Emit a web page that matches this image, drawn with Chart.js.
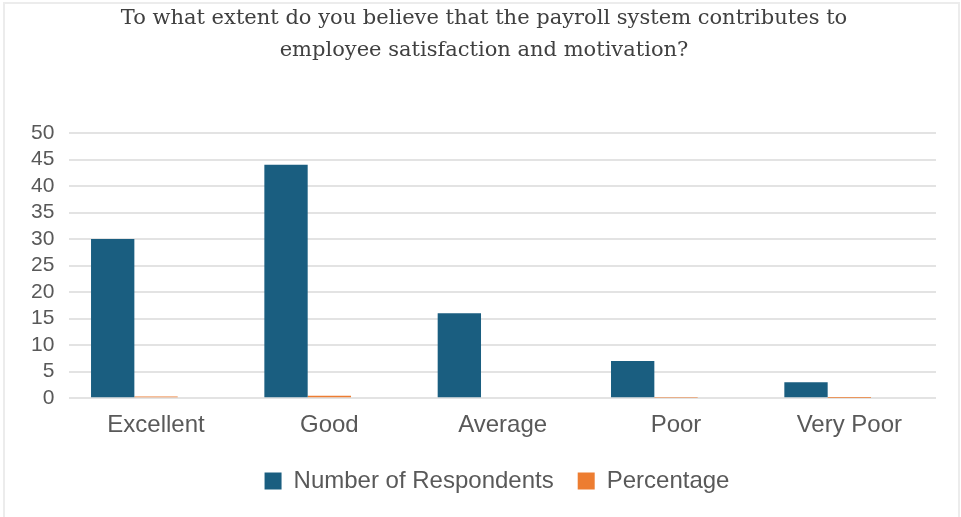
<!DOCTYPE html>
<html>
<head>
<meta charset="utf-8">
<script src="https://cdn.jsdelivr.net/npm/chart.js@4/dist/chart.umd.min.js"></script>
<style>
  html, body { margin: 0; padding: 0; background: #fff; overflow: hidden; }
  #wrap { position: relative; width: 961px; height: 517px; }
  #frame { position: absolute; left: 3px; top: 2px; width: 953px; height: 530px;
           border: 2px solid #ececec; pointer-events: none; }
</style>
</head>
<body>
<div id="wrap"><canvas id="chart"></canvas><div id="frame"></div></div>
<script>
// chart data
const categories = ['Excellent', 'Good', 'Average', 'Poor', 'Very Poor'];
const respondents = [30, 44, 16, 7, 3];
const percentage = [0.30, 0.44, 0.16, 0.07, 0.03];
const titleLines = ['To what extent do you believe that the payroll system contributes to',
                    'employee satisfaction and motivation?'];

const textColor = '#595959';

// title and legend in the original sit a little right of the canvas centre
const boxShift = {
    id: 'boxShift',
    afterLayout(chart) {
        if (chart.legend) {
            chart.legend.left += 21;
            chart.legend.right += 21;
        }
        if (chart.titleBlock) {
            chart.titleBlock.left += 8;
            chart.titleBlock.right += 8;
        }
    }
};

new Chart(document.getElementById('chart'), {
    type: 'bar',
    data: {
        labels: categories,
        datasets: [
            {
                label: 'Number of Respondents',
                data: respondents,
                backgroundColor: '#1a5e80'
            },
            {
                label: 'Percentage',
                data: percentage,
                backgroundColor: '#ed7d31'
            },
            {
                // empty third series, keeps the bar groups offset like the original
                label: '',
                data: [null, null, null, null, null],
                backgroundColor: 'transparent'
            }
        ]
    },
    plugins: [boxShift],
    options: {
        responsive: true,
        maintainAspectRatio: false,
        animation: false,
        datasets: {
            bar: { categoryPercentage: 0.75, barPercentage: 1.0 }
        },
        layout: { padding: { left: 16, right: 25, top: 0, bottom: 14 } },
        plugins: {
            title: {
                display: true,
                text: titleLines,
                color: '#404040',
                font: { family: 'DejaVu Serif', size: 21, weight: 'normal', lineHeight: '32px' },
                padding: { top: 3, bottom: 66 }
            },
            legend: {
                position: 'bottom',
                labels: {
                    color: textColor,
                    font: { family: 'Liberation Sans', size: 24 },
                    boxWidth: 17,
                    boxHeight: 17,
                    padding: 24,
                    filter: item => item.text !== ''
                }
            },
            tooltip: { enabled: false }
        },
        scales: {
            x: {
                grid: { display: false },
                border: { display: false },
                ticks: {
                    color: textColor,
                    font: { family: 'Liberation Sans', size: 24 },
                    padding: 5
                }
            },
            y: {
                min: 0,
                max: 50,
                ticks: {
                    stepSize: 5,
                    autoSkip: false,
                    color: textColor,
                    font: { family: 'Liberation Sans', size: 21, lineHeight: 1 },
                    padding: 15
                },
                grid: { color: '#e3e3e3', lineWidth: 2, drawTicks: false },
                border: { display: false }
            }
        }
    }
});
</script>
</body>
</html>
